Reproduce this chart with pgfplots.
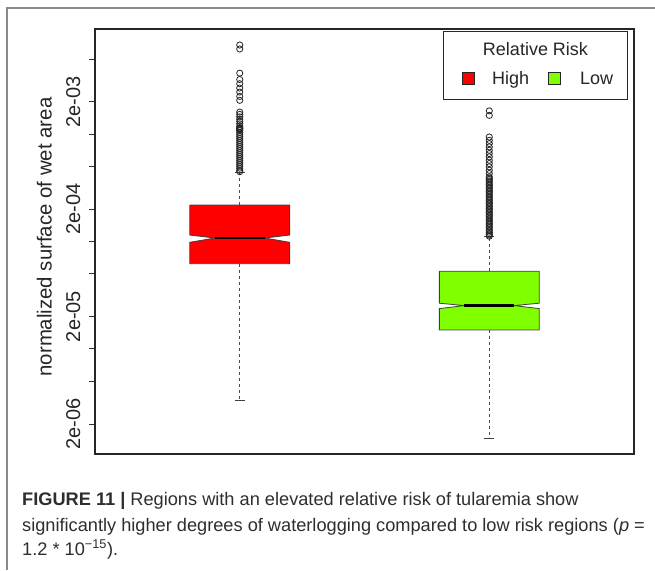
\documentclass[border=0pt]{standalone}
\usepackage{fontspec}
\setmainfont{Liberation Sans}
\usepackage{pgfplots}
\pgfplotsset{compat=1.18}
\definecolor{rred}{HTML}{FF0000}
\definecolor{rgreen}{HTML}{7FFF00}
\definecolor{framegray}{HTML}{8A8A8A}
\definecolor{captxt}{HTML}{2E2E2E}
\begin{document}
\begin{tikzpicture}
\useasboundingbox (0pt,0pt) rectangle (655pt,570pt);
\fill[white] (0pt,0pt) rectangle (655pt,570pt);
\draw[framegray, line width=1.5pt] (7pt,0pt) -- (7pt,562pt) -- (655pt,562pt);
\begin{axis}[
  at={(95pt,116pt)}, anchor=south west, width=539pt, height=425pt, scale only axis,
  ymode=log, xmin=0.42, xmax=2.58, ymin=1.05e-6, ymax=9.5e-3,
  xtick=\empty,
  ytick={2e-6,5e-6,1e-5,2e-5,5e-5,1e-4,2e-4,5e-4,1e-3,2e-3,5e-3},
  yticklabels={2e-06,,,2e-05,,,2e-04,,,2e-03,},
  yminorticks=false, ytick pos=left,
  tick align=outside, major tick length=6pt,
  ytick style={black!80, line width=0.8pt},
  axis line style={black!85, line width=1.1pt},
  yticklabel style={font=\fontsize{20}{24}\selectfont, xshift=-9pt, rotate=90, anchor=base, text=black!85},
  ylabel={normalized surface of wet area},
  ylabel style={font=\fontsize{20.4}{24}\selectfont, at={(axis description cs:-0.0803,0.5106)}, anchor=base, text=black!85},
  clip=false,
]
% ---- High ----
\addplot[black!70, line width=0.8pt, dash pattern=on 3pt off 3pt] coordinates {(1,2.18e-4) (1,4.38e-4)};
\addplot[black!70, line width=0.8pt, dash pattern=on 3pt off 3pt] coordinates {(1,6.21e-5) (1,3.30e-6)};
\addplot[black!75, line width=0.8pt] coordinates {(0.98,4.38e-4) (1.02,4.38e-4)};
\addplot[black!75, line width=0.8pt] coordinates {(0.98,3.30e-6) (1.02,3.30e-6)};
\addplot[fill=rred, draw=black!75, line width=0.8pt] coordinates {
 (0.8,2.18e-4) (1.2,2.18e-4) (1.2,1.147e-4) (1.1,1.076e-4) (1.2,9.82e-5) (1.2,6.21e-5)
 (0.8,6.21e-5) (0.8,9.82e-5) (0.9,1.076e-4) (0.8,1.147e-4) (0.8,2.18e-4)};
\addplot[black, line width=2.4pt] coordinates {(0.9,1.076e-4) (1.1,1.076e-4)};
\addplot[only marks, mark=o, mark size=3.1pt, black!85, mark options={line width=0.8pt}] coordinates {
 (1,6.74e-3) (1,6.19e-3) (1,3.69e-3) (1,3.22e-3) (1,2.94e-3) (1,2.68e-3) (1,2.46e-3) (1,2.24e-3) (1,2.06e-3)
 (1,1.601e-3) (1,1.524e-3) (1,1.445e-3) (1,1.370e-3) (1,1.313e-3) (1,1.244e-3) (1,1.180e-3) (1,1.142e-3)
 (1,1.130e-3) (1,1.118e-3) (1,1.100e-3) (1,1.083e-3) (1,1.037e-3) (1,9.94e-4) (1,9.53e-4) (1,9.13e-4)
 (1,8.74e-4) (1,8.38e-4) (1,8.03e-4) (1,7.69e-4) (1,7.37e-4) (1,7.06e-4) (1,6.76e-4) (1,6.48e-4)
 (1,6.21e-4) (1,5.95e-4) (1,5.70e-4) (1,5.46e-4) (1,5.23e-4) (1,5.02e-4) (1,4.81e-4) (1,4.60e-4) (1,4.46e-4)};
% ---- Low ----
\addplot[black!70, line width=0.8pt, dash pattern=on 3pt off 3pt] coordinates {(2,5.28e-5) (2,1.106e-4)};
\addplot[black!70, line width=0.8pt, dash pattern=on 3pt off 3pt] coordinates {(2,1.50e-5) (2,1.46e-6)};
\addplot[black!75, line width=0.8pt] coordinates {(1.98,1.106e-4) (2.02,1.106e-4)};
\addplot[black!75, line width=0.8pt] coordinates {(1.98,1.46e-6) (2.02,1.46e-6)};
\addplot[fill=rgreen, draw=black!75, line width=0.8pt] coordinates {
 (1.8,5.28e-5) (2.2,5.28e-5) (2.2,2.66e-5) (2.1,2.53e-5) (2.2,2.37e-5) (2.2,1.50e-5)
 (1.8,1.50e-5) (1.8,2.37e-5) (1.9,2.53e-5) (1.8,2.66e-5) (1.8,5.28e-5)};
\addplot[black, line width=2.4pt] coordinates {(1.9,2.53e-5) (2.1,2.53e-5)};
\addplot[only marks, mark=o, mark size=3.1pt, black!85, mark options={line width=0.8pt}] coordinates {
 (2,1.643e-3) (2,1.492e-3)
 (2,9.38e-4) (2,8.74e-4) (2,8.15e-4) (2,7.59e-4) (2,7.06e-4) (2,6.58e-4) (2,6.13e-4) (2,5.70e-4)
 (2,5.31e-4) (2,4.95e-4) (2,4.60e-4) (2,4.29e-4) (2,3.99e-4)
 (2,3.88e-4) (2,3.76e-4) (2,3.64e-4) (2,3.52e-4) (2,3.41e-4) (2,3.31e-4) (2,3.20e-4) (2,3.10e-4)
 (2,3.00e-4) (2,2.91e-4) (2,2.82e-4) (2,2.73e-4) (2,2.64e-4) (2,2.56e-4) (2,2.48e-4) (2,2.40e-4)
 (2,2.32e-4) (2,2.25e-4) (2,2.18e-4) (2,2.11e-4) (2,2.04e-4) (2,1.98e-4) (2,1.92e-4) (2,1.86e-4)
 (2,1.80e-4) (2,1.74e-4) (2,1.69e-4) (2,1.63e-4) (2,1.58e-4) (2,1.53e-4) (2,1.48e-4) (2,1.44e-4)
 (2,1.39e-4) (2,1.35e-4) (2,1.30e-4) (2,1.26e-4) (2,1.22e-4) (2,1.18e-4) (2,1.15e-4) (2,1.12e-4)};
\end{axis}
% legend
\draw[black!85, line width=1pt] (443pt,470pt) rectangle (627pt,538pt);
\node[font=\fontsize{18}{20}\selectfont, anchor=base, text=black!85] at (535.5pt,514.3pt) {Relative Risk};
\draw[fill=rred, draw=black!85, line width=0.8pt] (462.5pt,486pt) rectangle (474.5pt,498pt);
\node[font=\fontsize{18}{20}\selectfont, anchor=base west, inner sep=0pt, text=black!85] at (492pt,485.7pt) {High};
\draw[fill=rgreen, draw=black!85, line width=0.8pt] (548.5pt,486pt) rectangle (560.5pt,498pt);
\node[font=\fontsize{18}{20}\selectfont, anchor=base west, inner sep=0pt, text=black!85] at (580pt,485.7pt) {Low};
% caption
\node[font=\fontsize{18.2}{20}\selectfont, anchor=base west, inner sep=0pt, text=captxt] at (22pt,65pt) {\textbf{FIGURE 11 |} Regions with an elevated relative risk of tularemia show};
\node[font=\fontsize{18.2}{20}\selectfont, anchor=base west, inner sep=0pt, text=captxt] at (22pt,39pt) {significantly higher degrees of waterlogging compared to low risk regions (\textit{p} =};
\node[font=\fontsize{18.2}{20}\selectfont, anchor=base west, inner sep=0pt, text=captxt] at (22pt,15pt) {1.2 * 10\textsuperscript{−15}).};
\end{tikzpicture}
\end{document}
